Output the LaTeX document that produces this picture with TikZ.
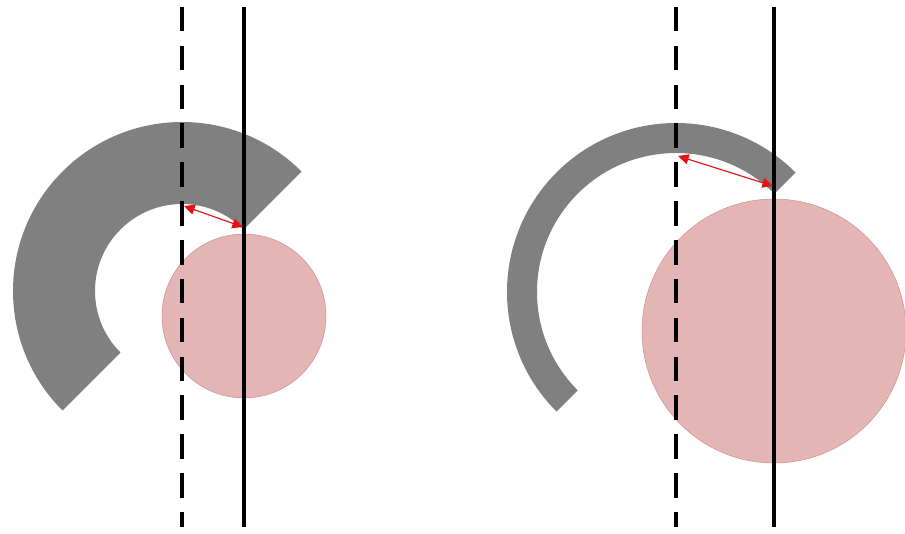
\documentclass[tikz,border=0pt]{standalone}
\usetikzlibrary{arrows.meta,calc}
\definecolor{ring}{RGB}{128,128,128}
\definecolor{ball}{RGB}{228,181,181}
\definecolor{ballrim}{RGB}{205,140,140}
\definecolor{gap}{RGB}{228,20,20}

\begin{document}
\begin{tikzpicture}[x=0.3mm,y=0.3mm,
    axis/.style={line width=3pt},
    refaxis/.style={line width=3.4pt,dash pattern=on 7.35mm off 4.3mm},
    gaparrow/.style={gap,line width=1pt,
      {Triangle[length=3.2mm,width=3mm]}-{Triangle[length=3.2mm,width=3mm]}}]
  \useasboundingbox (0,0) rectangle (905,533);
  \clip (0,0) rectangle (905,533);
  % one panel per row: ring centre, inner radius, shaft x, ball, arrow ends
  \foreach \i/\cx/\cy/\rin/\sx/\bcy/\br/\ya/\yb in {
      1/182/242/87/244/217/82/327/306,
      2/676/241/139/774/202/132/377/347}{
    \coordinate (c\i) at (\cx,\cy);
    \fill[ring] (c\i) ++(45:169) arc[start angle=45,end angle=225,radius=169]
      -- ($(c\i)+(225:\rin)$) arc[start angle=225,end angle=45,radius=\rin] -- cycle;
    \fill[ball,draw=ballrim,line width=0.4pt] (\sx,\bcy) circle[radius=\br];
    \draw[refaxis] (\cx,526) -- (\cx,6);
    \draw[axis] (\sx,526) -- (\sx,6);
    \coordinate (a\i) at (\cx+2,\ya);
    \coordinate (b\i) at (\sx-1,\yb);
    \draw[gaparrow] (a\i) -- (b\i);
  }
\end{tikzpicture}
\end{document}
